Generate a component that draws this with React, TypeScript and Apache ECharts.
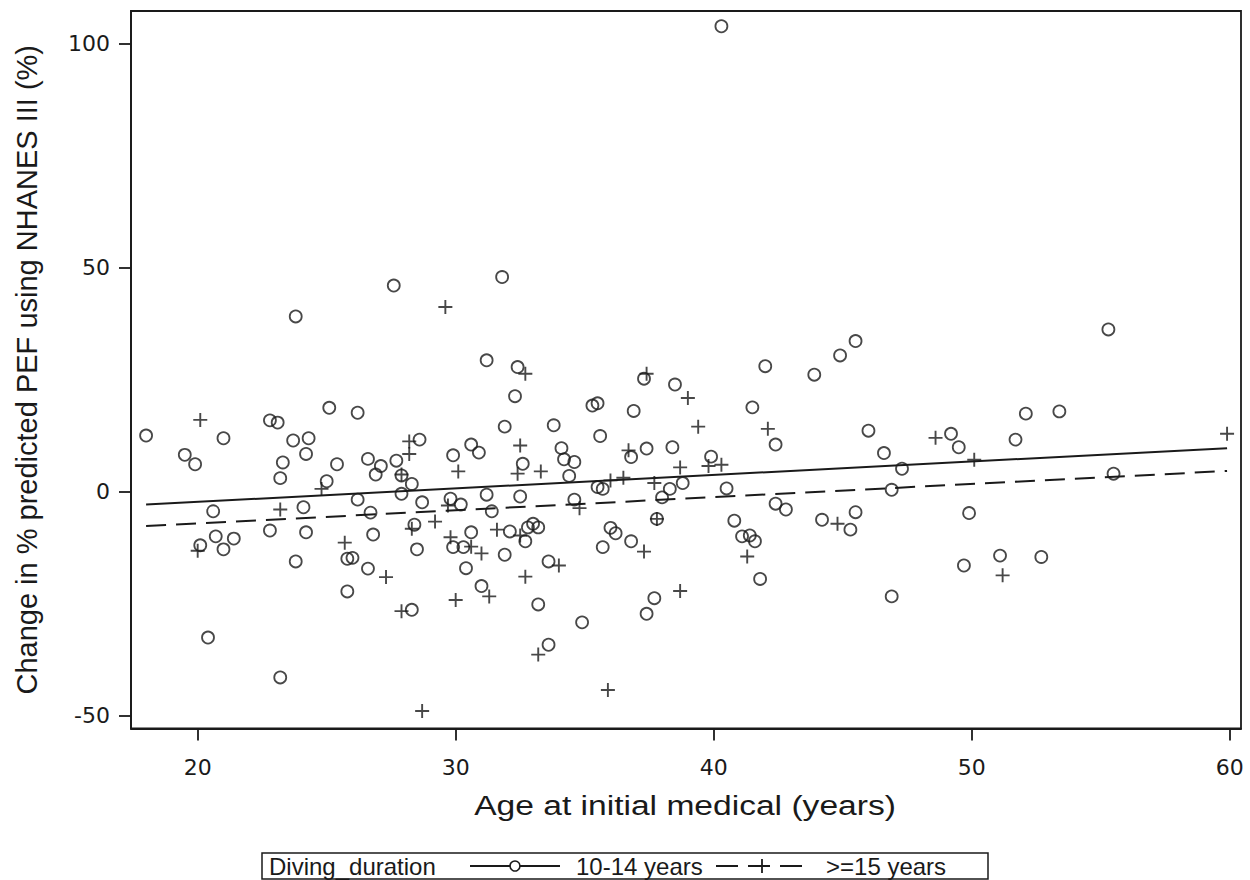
import React, { useEffect, useRef } from "react";
import * as echarts from "echarts";

// ---- data ----
const xTicks = [20, 30, 40, 50, 60];
const yTicks = [-50, 0, 50, 100];

const xTitle = "Age at initial medical (years)";
const yTitle = "Change in % predicted PEF using NHANES III (%)";
const legendTitle = "Diving_duration";
const seriesNames = ["10-14 years", ">=15 years"];

// [age, change] for the 10-14 years group (circles)
const group1014: number[][] = [
  [27.6, 46.0], [23.8, 39.1], [18.0, 12.5], [21.0, 11.9], [22.8, 15.9], [23.1, 15.4],
  [25.1, 18.7], [26.2, 17.6], [23.7, 11.4], [24.3, 11.9], [24.2, 8.4], [19.5, 8.2],
  [19.9, 6.1], [23.3, 6.5], [25.4, 6.1], [26.6, 7.3], [27.1, 5.7], [27.7, 6.9],
  [26.9, 3.8], [23.2, 3.0], [25.0, 2.3], [27.9, 3.6], [27.9, -0.5], [26.2, -1.8],
  [20.6, -4.4], [24.1, -3.5], [26.7, -4.7], [22.8, -8.7], [24.2, -9.1], [26.8, -9.6],
  [20.7, -10.0], [21.4, -10.5], [20.1, -12.0], [21.0, -12.9], [25.8, -15.0], [26.0, -14.8],
  [23.8, -15.6], [26.6, -17.2], [25.8, -22.3], [28.3, -26.4], [20.4, -32.6], [23.2, -41.5],
  [31.8, 47.9], [31.2, 29.3], [32.4, 27.8], [32.3, 21.3], [37.3, 25.2], [38.5, 23.9],
  [35.3, 19.2], [35.5, 19.7], [36.9, 18.0], [31.9, 14.5], [33.8, 14.8], [35.6, 12.4],
  [28.6, 11.6], [29.9, 8.1], [30.6, 10.5], [30.9, 8.7], [32.6, 6.2], [34.1, 9.7],
  [34.2, 7.2], [34.6, 6.6], [34.4, 3.5], [36.8, 7.7], [37.4, 9.6], [38.4, 9.9],
  [28.3, 1.7], [28.7, -2.4], [29.8, -1.6], [30.2, -2.9], [31.2, -0.7], [31.4, -4.4],
  [32.5, -1.1], [35.5, 1.0], [35.7, 0.6], [38.3, 0.6], [38.0, -1.3], [34.6, -1.8],
  [37.8, -6.1], [28.4, -7.4], [28.5, -12.9], [30.6, -9.1], [29.9, -12.4], [30.3, -12.4],
  [30.4, -17.1], [32.1, -8.9], [32.7, -11.1], [32.8, -8.0], [33.0, -7.2], [33.2, -8.0],
  [31.9, -14.1], [33.6, -15.6], [31.0, -21.1], [33.2, -25.2], [34.9, -29.2], [33.6, -34.2],
  [36.0, -8.1], [36.2, -9.3], [35.7, -12.4], [36.8, -11.1], [37.7, -23.8], [37.4, -27.3],
  [42.0, 28.0], [43.9, 26.1], [44.9, 30.4], [45.5, 33.6], [41.5, 18.8], [42.4, 10.5],
  [39.9, 7.8], [38.8, 1.9], [40.5, 0.7], [46.0, 13.6], [46.6, 8.6], [47.3, 5.1],
  [49.2, 12.9], [49.5, 9.9], [42.4, -2.7], [42.8, -4.0], [40.8, -6.5], [41.1, -10.0],
  [41.4, -9.8], [41.6, -11.1], [41.8, -19.5], [44.2, -6.3], [45.5, -4.6], [45.3, -8.5],
  [46.9, 0.4], [46.9, -23.4], [49.9, -4.8], [49.7, -16.5], [55.3, 36.2], [52.1, 17.4],
  [53.4, 17.9], [51.7, 11.6], [55.5, 4.0], [51.1, -14.3], [52.7, -14.6], [40.3, 103.9],
];

// [age, change] for the >=15 years group (plus signs)
const group15: number[][] = [
  [20.1, 16.0], [28.2, 11.2], [28.2, 8.4], [27.9, 3.8], [24.8, 0.6], [23.2, -4.0],
  [20.0, -13.2], [25.7, -11.4], [27.3, -19.1], [27.9, -26.7], [29.6, 41.2], [32.7, 26.3],
  [37.4, 26.3], [32.5, 10.3], [30.1, 4.5], [32.4, 4.0], [33.3, 4.5], [36.7, 9.2],
  [38.7, 5.4], [36.0, 2.5], [36.5, 3.1], [37.7, 1.9], [34.8, -3.7], [37.8, -6.1],
  [28.3, -8.3], [29.2, -6.7], [29.7, -3.1], [29.8, -10.2], [30.6, -12.3], [31.0, -13.8],
  [31.6, -8.5], [32.5, -9.8], [34.0, -16.5], [32.7, -19.0], [31.3, -23.4], [30.0, -24.2],
  [33.2, -36.4], [35.9, -44.3], [28.7, -49.0], [37.3, -13.4], [38.7, -22.2], [39.0, 20.9],
  [39.4, 14.5], [42.1, 14.0], [39.8, 5.7], [40.3, 6.0], [41.3, -14.5], [44.8, -7.2],
  [48.6, 12.0], [50.1, 7.1], [59.9, 12.9], [51.2, -18.7],
];

// fitted lines (end points)
const fit1014: number[][] = [[18.0, -2.9], [59.9, 9.7]];
const fit15: number[][] = [[18.0, -7.7], [59.9, 4.6]];

const FONT = "'Liberation Sans', Arial, Helvetica, sans-serif";
const WIDE = "'DejaVu Sans', 'Liberation Sans', Arial, sans-serif";
const INK = "#1a1a1a";
const PLUS = "path://M7,0 L7,14 M0,7 L14,7";

export default function App() {
  const ref = useRef<HTMLDivElement>(null);

  useEffect(() => {
    if (!ref.current) return;
    const chart = echarts.init(ref.current, undefined, { renderer: "svg" });

    const legendY = 866;
    const option: any = {
      animation: false,
      backgroundColor: "#ffffff",
      grid: {
        left: 131,
        right: 9,
        top: 11,
        bottom: 151.5,
        show: true,
        borderColor: INK,
        borderWidth: 1.8,
        backgroundColor: "#ffffff",
      },
      xAxis: {
        type: "value",
        min: 17.415,
        max: 60.44,
        axisLine: { show: true, onZero: false, lineStyle: { color: INK, width: 1.8 } },
        axisTick: { show: true, length: 12, lineStyle: { color: INK, width: 1.8 }, customValues: xTicks },
        axisLabel: { fontFamily: WIDE, fontSize: 22, color: INK, margin: 28, customValues: xTicks },
        splitLine: { show: false },
      },
      yAxis: {
        type: "value",
        min: -52.9,
        max: 107.3,
        name: yTitle,
        nameLocation: "middle",
        nameGap: 90,
        nameTextStyle: { fontFamily: FONT, fontSize: 29, color: INK },
        axisLine: { show: true, onZero: false, lineStyle: { color: INK, width: 1.8 } },
        axisTick: { show: true, length: 12, lineStyle: { color: INK, width: 1.8 }, customValues: yTicks },
        axisLabel: { fontFamily: WIDE, fontSize: 22, color: INK, margin: 21, customValues: yTicks },
        splitLine: { show: false },
      },
      series: [
        {
          name: seriesNames[0],
          type: "scatter",
          data: group1014,
          symbol: "circle",
          symbolSize: 12,
          itemStyle: { color: "rgba(0,0,0,0)", borderColor: INK, borderWidth: 1.8 },
          z: 3,
        },
        {
          name: seriesNames[1],
          type: "scatter",
          data: group15,
          symbol: PLUS,
          symbolSize: 14,
          itemStyle: { color: "rgba(0,0,0,0)", borderColor: INK, borderWidth: 1.9 },
          z: 3,
        },
        {
          name: seriesNames[0] + " fit",
          type: "line",
          data: fit1014,
          showSymbol: false,
          lineStyle: { color: INK, width: 2, type: "solid" },
          z: 2,
        },
        {
          name: seriesNames[1] + " fit",
          type: "line",
          data: fit15,
          showSymbol: false,
          lineStyle: { color: INK, width: 2, type: [20, 10] },
          z: 2,
        },
      ],
      graphic: [
        {
          type: "text",
          x: 685,
          y: 805,
          scaleX: 1.2,
          style: { text: xTitle, fontFamily: FONT, fontSize: 28, fill: INK, verticalAlign: "middle", align: "center" },
        },
        {
          type: "rect",
          shape: { x: 262, y: 853, width: 726, height: 26 },
          style: { fill: "#ffffff", stroke: INK, lineWidth: 1.5 },
        },
        {
          type: "text",
          x: 269,
          y: legendY,
          style: { text: legendTitle, fontFamily: FONT, fontSize: 24, fill: INK, verticalAlign: "middle", align: "left" },
        },
        {
          type: "line",
          shape: { x1: 470, y1: legendY, x2: 560, y2: legendY },
          style: { stroke: INK, lineWidth: 1.8 },
        },
        {
          type: "circle",
          shape: { cx: 515, cy: legendY, r: 5 },
          style: { fill: "#ffffff", stroke: INK, lineWidth: 1.6 },
        },
        {
          type: "text",
          x: 576,
          y: legendY,
          style: { text: seriesNames[0], fontFamily: FONT, fontSize: 24, fill: INK, verticalAlign: "middle", align: "left" },
        },
        {
          type: "line",
          shape: { x1: 716, y1: legendY, x2: 812, y2: legendY },
          style: { stroke: INK, lineWidth: 1.8, lineDash: [22, 10] },
        },
        {
          type: "line",
          shape: { x1: 755, y1: legendY, x2: 769, y2: legendY },
          style: { stroke: INK, lineWidth: 1.8 },
        },
        {
          type: "line",
          shape: { x1: 762, y1: legendY - 7, x2: 762, y2: legendY + 7 },
          style: { stroke: INK, lineWidth: 1.8 },
        },
        {
          type: "text",
          x: 826,
          y: legendY,
          style: { text: seriesNames[1], fontFamily: FONT, fontSize: 24, fill: INK, verticalAlign: "middle", align: "left" },
        },
      ],
    };

    chart.setOption(option);
    return () => chart.dispose();
  }, []);

  return (
    <div
      ref={ref}
      style={{ position: "fixed", left: 0, top: 0, width: 1250, height: 880, background: "#fff" }}
    />
  );
}
